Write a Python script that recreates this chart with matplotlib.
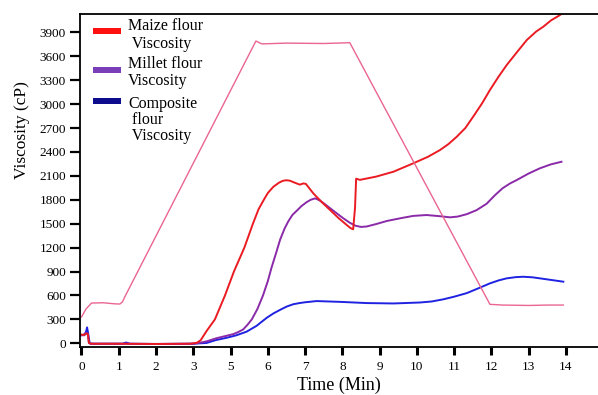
import matplotlib
matplotlib.use("Agg")
import matplotlib.pyplot as plt
from matplotlib.patches import Rectangle

plt.rcParams['font.family'] = ['Liberation Serif', 'DejaVu Serif']

# ---- data (x in tick-position units) ----
tick_pos = list(range(14))
tick_labels = ['0', '1', '2', '3', '5', '6', '7', '8', '9', '10', '11', '12', '13', '14']
y_ticks = [0, 300, 600, 900, 1200, 1500, 1800, 2100, 2400, 2700, 3000, 3300, 3600, 3900]

profile_x = [0, 0.12, 0.27, 0.58, 0.9, 1.03, 1.1, 1.17, 4.68, 4.84, 5.5, 6.5, 7.20, 10.96, 11.3, 12.0, 12.5, 12.93]
profile_y = [330, 430, 505, 509, 495, 493, 520, 590, 3791, 3755, 3765, 3760, 3770, 489, 480, 475, 480, 480]

maize_x = [0, 0.07, 0.12, 0.17, 0.2, 0.25, 1.0, 2.0, 2.9, 3.0, 3.1, 3.2, 3.35, 3.58, 3.85, 4.09, 4.37,
           4.6, 4.75, 4.88, 5.0, 5.15, 5.3, 5.41, 5.5, 5.59, 5.72, 5.86, 5.95, 6.02, 6.22, 6.45, 6.67,
           6.9, 7.12, 7.22, 7.29, 7.34, 7.37, 7.47, 7.9, 8.37, 8.90, 9.3, 9.62, 9.85, 10.07, 10.3, 10.51,
           10.75, 10.96, 11.2, 11.41, 11.7, 11.95, 12.2, 12.39, 12.6, 12.84, 12.95]
maize_y = [110, 105, 125, 120, 5, -5, -5, -8, -5, 0, 8, 40, 150, 300, 600, 900, 1200,
           1500, 1680, 1790, 1885, 1964, 2015, 2039, 2045, 2040, 2015, 1990, 2005, 2000, 1881, 1770, 1672,
           1570, 1483, 1445, 1430, 1700, 2065, 2050, 2090, 2152, 2257, 2340, 2424, 2500, 2591, 2700, 2842,
           3010, 3177, 3350, 3490, 3660, 3804, 3910, 3970, 4050, 4117, 4160]

millet_x = [0, 0.07, 0.12, 0.17, 0.2, 0.25, 1.0, 2.0, 3.0, 3.2, 3.36, 3.63, 3.85, 4.07, 4.2, 4.34, 4.45, 4.57,
            4.72, 4.87, 5.0, 5.1, 5.22, 5.33, 5.45, 5.55, 5.66, 5.77, 5.9, 6.04, 6.15, 6.27, 6.38, 6.49,
            6.67, 6.85, 7.02, 7.20, 7.35, 7.5, 7.65, 7.9, 8.2, 8.55, 8.9, 9.26, 9.6, 9.89, 10.1, 10.34,
            10.6, 10.87, 11.1, 11.3, 11.5, 11.68, 12.0, 12.30, 12.6, 12.88]
millet_y = [105, 100, 120, 115, 5, -5, -5, -8, -5, 10, 25, 65, 90, 115, 140, 175, 230, 300,
            430, 600, 780, 950, 1130, 1300, 1440, 1530, 1610, 1660, 1720, 1770, 1800, 1818, 1795, 1760,
            1695, 1630, 1570, 1512, 1475, 1460, 1465, 1495, 1535, 1568, 1598, 1609, 1595, 1580, 1590, 1620,
            1670, 1750, 1860, 1945, 2005, 2048, 2130, 2195, 2245, 2277]

composite_x = [0, 0.07, 0.12, 0.15, 0.18, 0.22, 0.3, 1.1, 1.2, 1.3, 2.0, 3.0, 3.36, 3.6, 3.9, 4.15, 4.43,
               4.7, 4.97, 5.15, 5.33, 5.5, 5.68, 5.85, 6.0, 6.31, 6.94, 7.65, 8.37, 9.08, 9.4, 9.71, 10.0,
               10.34, 10.65, 10.96, 11.2, 11.41, 11.65, 11.85, 12.1, 12.30, 12.6, 12.93]
composite_y = [100, 110, 140, 200, 120, 0, -5, -5, 10, -5, -8, -5, 5, 40, 70, 100, 146,
               220, 320, 375, 420, 460, 490, 505, 515, 530, 520, 505, 500, 512, 525, 552, 585,
               630, 690, 752, 790, 815, 830, 835, 828, 815, 795, 773]

legend_labels = ['Maize flour\n Viscosity', 'Millet flour\nViscosity', 'Composite\n flour\n Viscosity']

# ---- figure ----
W, H = 598, 395
fig = plt.figure(figsize=(W / 100, H / 100), dpi=100)
ax_l, ax_r, ax_t, ax_b = 80, 598, 14, 347
ax = fig.add_axes([ax_l / W, 1 - ax_b / H, (ax_r - ax_l) / W, (ax_b - ax_t) / H])

ax.plot(composite_x, composite_y, color='#1f22e0', lw=1.4)
ax.plot(millet_x, millet_y, color='#8a2aa8', lw=1.4)
ax.plot(maize_x, maize_y, color='#ea1b22', lw=1.4)
ax.plot(profile_x, profile_y, color='#ea6590', lw=1.0)

ax.set_xlim(-0.04, 13.86)
ax.set_ylim(-46, 4130)
ax.set_xticks(tick_pos)
ax.set_xticklabels(tick_labels)
ax.set_yticks(y_ticks)
ax.set_yticklabels([str(v) for v in y_ticks])

ax.spines['right'].set_visible(False)
for s in ['left', 'bottom', 'top']:
    ax.spines[s].set_linewidth(1.3)

ax.tick_params(axis='x', direction='out', length=6, width=2.2, labelsize=9.5, pad=4)
ax.tick_params(axis='y', direction='out', length=7, width=1.6, labelsize=9.5, pad=3)

ax.set_xlabel('Time (Min)', fontsize=13, labelpad=3)
ax.set_ylabel('Viscosity (cP)', fontsize=12.5)
ax.yaxis.set_label_coords(-0.097, 0.65)


def ax_xy(px, py):
    return (px - ax_l) / (ax_r - ax_l), (ax_b - py) / (ax_b - ax_t)


# ---- legend drawn manually ----
handle_cols = ['#ff1010', '#7a3fb8', '#0c0c8c']
handle_py = [30.5, 70, 101]
for col, hy in zip(handle_cols, handle_py):
    x0, y0 = ax_xy(93, hy + 3)
    x1, y1 = ax_xy(121, hy - 3)
    ax.add_patch(Rectangle((x0, y0), x1 - x0, y1 - y0, transform=ax.transAxes,
                           facecolor=col, edgecolor='none', zorder=5))

text_cy = [35, 72.5, 120]
spacings = [1.15, 1.15, 0.97]
for lab, ty, lsp in zip(legend_labels, text_cy, spacings):
    tx, tyy = ax_xy(128, ty)
    ax.text(tx, tyy, lab, transform=ax.transAxes, fontsize=11.5, va='center', ha='left',
            linespacing=lsp, zorder=5)

fig.savefig('out.png', dpi=100)
